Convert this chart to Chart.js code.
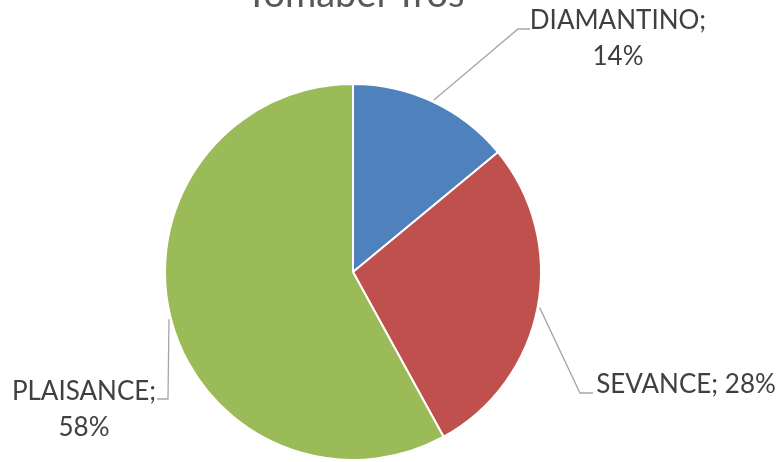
<!DOCTYPE html>
<html>
<head>
<meta charset="utf-8">
<script src="https://cdn.jsdelivr.net/npm/chart.js@4/dist/chart.umd.min.js"></script>
<style>
  html, body { margin: 0; padding: 0; background: #fff; }
  #wrap { width: 783px; height: 462px; }
</style>
</head>
<body>
<div id="wrap"><canvas id="chart"></canvas></div>
<script>
const titleText = 'Tomabel Tros';
const categories = ['DIAMANTINO', 'SEVANCE', 'PLAISANCE'];
const shares = [14, 28, 58];
const sliceColors = ['#4F81BD', '#C0504D', '#9BBB59'];

// where each label sits and where its leader line bends
const labelLayout = [
  { lines: ['DIAMANTINO;', '14%'], x: 618, y: [29, 65], elbow: [518, 29], end: [530, 29] },
  { lines: ['SEVANCE; 28%'], x: 686, y: [393], elbow: [580, 393], end: [593, 393] },
  { lines: ['PLAISANCE;', '58%'], x: 84, y: [400, 436], elbow: [168, 399], end: [157, 399] },
];

const FONT = '"Lato", "Liberation Sans", sans-serif';

const labelsPlugin = {
  id: 'pieLabels',
  afterDraw(chart) {
    const ctx = chart.ctx;
    const arcs = chart.getDatasetMeta(0).data;
    ctx.save();

    // title, mostly pushed off the top edge like in the original
    ctx.fillStyle = '#595959';
    ctx.font = '38px ' + FONT;
    ctx.textAlign = 'center';
    ctx.textBaseline = 'alphabetic';
    ctx.fillText(titleText, 355, 7);

    arcs.forEach((arc, i) => {
      const lay = labelLayout[i];
      const mid = (arc.startAngle + arc.endAngle) / 2;
      const r = arc.outerRadius + 2;
      const sx = arc.x + Math.cos(mid) * r;
      const sy = arc.y + Math.sin(mid) * r;

      ctx.strokeStyle = '#A6A6A6';
      ctx.lineWidth = 1.3;
      ctx.beginPath();
      ctx.moveTo(sx, sy);
      ctx.lineTo(lay.elbow[0], lay.elbow[1]);
      ctx.lineTo(lay.end[0], lay.end[1]);
      ctx.stroke();

      ctx.fillStyle = '#404040';
      ctx.font = '26px ' + FONT;
      lay.lines.forEach((t, k) => ctx.fillText(t, lay.x, lay.y[k]));
    });
    ctx.restore();
  }
};

new Chart(document.getElementById('chart'), {
  type: 'pie',
  data: {
    labels: categories,
    datasets: [{
      data: shares,
      backgroundColor: sliceColors,
      borderColor: '#ffffff',
      borderWidth: 2,
    }]
  },
  options: {
    responsive: true,
    maintainAspectRatio: false,
    animation: false,
    layout: { padding: { top: 83, bottom: 1, left: 164, right: 241 } },
    plugins: {
      legend: { display: false },
      tooltip: { enabled: false },
    }
  },
  plugins: [labelsPlugin]
});
</script>
</body>
</html>
